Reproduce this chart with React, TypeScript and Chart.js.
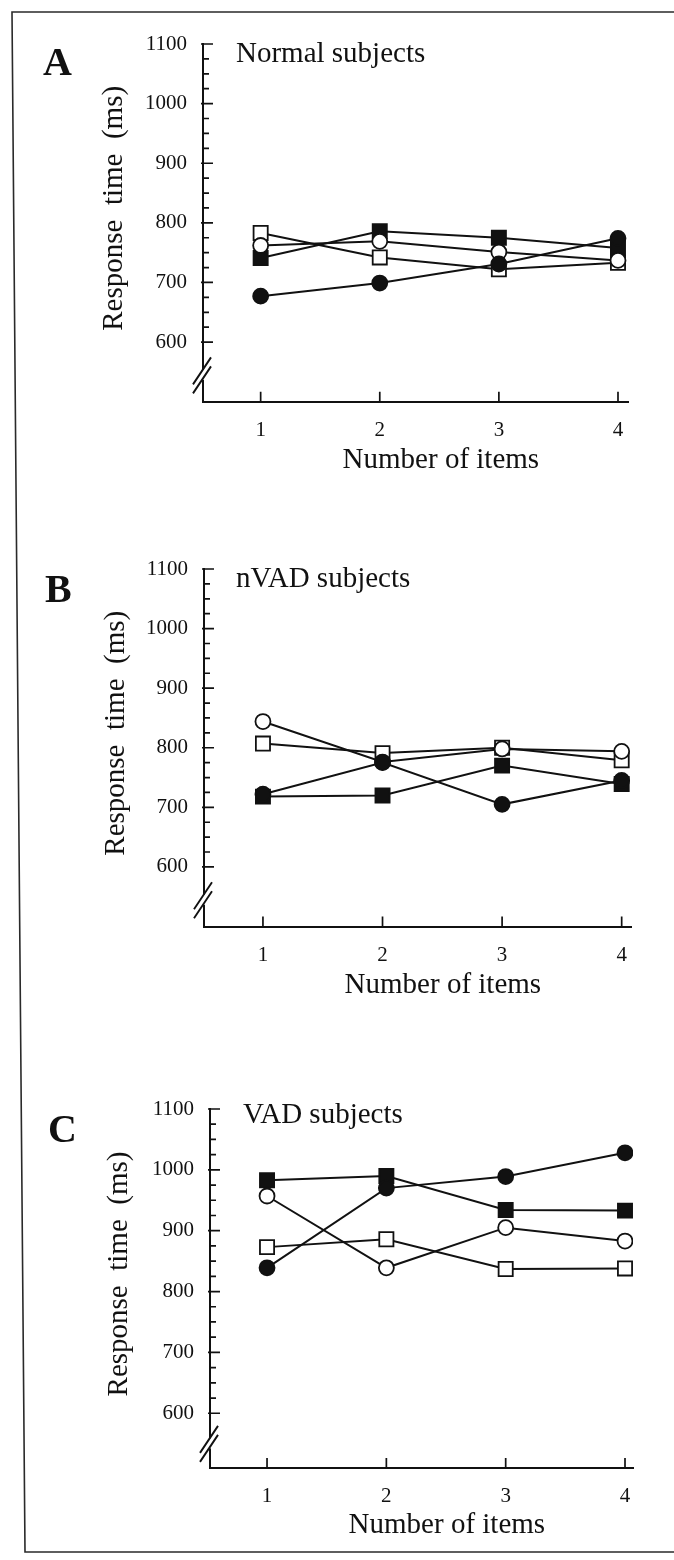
import React, { useEffect, useRef } from 'react';
import { Chart, registerables } from 'chart.js';

Chart.register(...registerables);

// ---------- data ----------
const xCategories = [1, 2, 3, 4];
const yTickValues = [600, 700, 800, 900, 1000, 1100];
const yMinorStep = 25;

const panelLetters = ['A', 'B', 'C'];
const panelTitles = ['Normal subjects', 'nVAD subjects', 'VAD subjects'];
const xAxisTitle = 'Number of items';
const yAxisTitle = 'Response  time  (ms)';

// Panel A – Normal subjects
const normalFilledCircle = [677, 699, 731, 774];
const normalFilledSquare = [741, 786, 775, 758];
const normalOpenCircle = [762, 769, 751, 737];
const normalOpenSquare = [783, 742, 722, 733];

// Panel B – nVAD subjects
const nvadFilledCircle = [722, 775, 705, 745];
const nvadFilledSquare = [718, 720, 770, 739];
const nvadOpenCircle = [844, 776, 798, 794];
const nvadOpenSquare = [807, 791, 800, 779];

// Panel C – VAD subjects
const vadFilledCircle = [839, 970, 989, 1028];
const vadFilledSquare = [983, 990, 934, 933];
const vadOpenCircle = [957, 839, 905, 883];
const vadOpenSquare = [873, 886, 837, 838];

const panelSeries = [
  { fc: normalFilledCircle, fs: normalFilledSquare, oc: normalOpenCircle, os: normalOpenSquare },
  { fc: nvadFilledCircle, fs: nvadFilledSquare, oc: nvadOpenCircle, os: nvadOpenSquare },
  { fc: vadFilledCircle, fs: vadFilledSquare, oc: vadOpenCircle, os: vadOpenSquare },
];

// ---------- layout (page pixels) ----------
const geom = [
  { top: 0, height: 500, axisX: 203, right: 628, yTop: 44, yBot: 401.7, xMin: 0.516, xMax: 4.084, yMin: 500,
    letterX: 43, letterBase: 75, titleX: 236, titleBase: 62, xTitleY: 460, yTitleX: 114 },
  { top: 510, height: 520, axisX: 204, right: 631, yTop: 569, yBot: 926.5, xMin: 0.507, xMax: 4.078, yMin: 500,
    letterX: 45, letterBase: 602, titleX: 236, titleBase: 587, xTitleY: 985, yTitleX: 116 },
  { top: 1040, height: 520, axisX: 210, right: 633, yTop: 1109, yBot: 1468, xMin: 0.522, xMax: 4.067, yMin: 510,
    letterX: 48, letterBase: 1142, titleX: 243, titleBase: 1123, xTitleY: 1525, yTitleX: 119 },
];

const FONT = "'Liberation Serif', 'Times New Roman', Times, serif";
const INK = '#111111';
const TICK_FONT = 21;
const TITLE_FONT = 29;

const axisDecor = {
  id: 'axisDecor',
  afterDraw(chart: any) {
    const ctx = chart.ctx;
    const { left, bottom } = chart.chartArea;
    const ys = chart.scales.y;
    const xs = chart.scales.x;
    const opts = chart.options.plugins.axisDecor || {};
    ctx.save();
    ctx.strokeStyle = INK;
    ctx.lineWidth = 1.7;
    ctx.beginPath();
    for (let v = yTickValues[0]; v <= yTickValues[yTickValues.length - 1]; v += yMinorStep) {
      const py = ys.getPixelForValue(v);
      const major = v % 100 === 0;
      ctx.moveTo(left - (major ? 2 : 1), py);
      ctx.lineTo(left + (major ? 10 : 6), py);
    }
    for (const v of xCategories) {
      const px = xs.getPixelForValue(v);
      ctx.moveTo(px, bottom);
      ctx.lineTo(px, bottom - 10);
    }
    ctx.stroke();
    // axis break
    const yb = ys.getPixelForValue(opts.breakValue);
    ctx.fillStyle = '#ffffff';
    ctx.fillRect(left - 3, yb - 5, 6, 10);
    ctx.lineWidth = 1.9;
    ctx.beginPath();
    for (const off of [-4.5, 4.5]) {
      ctx.moveTo(left - 10, yb + off + 14);
      ctx.lineTo(left + 8, yb + off - 13);
    }
    ctx.stroke();
    ctx.restore();
  },
};

function makeDataset(values: number[], style: string, filled: boolean, order: number) {
  return {
    data: xCategories.map((x, i) => ({ x, y: values[i] })),
    borderColor: INK,
    borderWidth: 2,
    pointStyle: style,
    pointRadius: style === 'rect' ? 10 : 7.5,
    pointBorderWidth: 1.8,
    pointBorderColor: INK,
    pointBackgroundColor: filled ? INK : '#ffffff',
    fill: false,
    tension: 0,
    order,
  };
}

function Panel({ idx }: { idx: number }) {
  const ref = useRef<HTMLCanvasElement | null>(null);
  const g = geom[idx];
  useEffect(() => {
    const s = panelSeries[idx];
    const lh = TITLE_FONT * 1.2;
    const chart = new Chart(ref.current as HTMLCanvasElement, {
      type: 'line',
      data: {
        datasets: [
          makeDataset(s.fc, 'circle', true, 0),
          makeDataset(s.oc, 'circle', false, 1),
          makeDataset(s.os, 'rect', false, 2),
          makeDataset(s.fs, 'rect', true, 3),
        ] as any,
      },
      options: {
        animation: false,
        responsive: false,
        devicePixelRatio: 1,
        layout: { padding: { left: 0, top: g.yTop - g.top, right: 674 - g.right, bottom: 0 } },
        plugins: {
          legend: { display: false },
          tooltip: { enabled: false },
          axisDecor: { breakValue: 600 - 0.55 * (600 - g.yMin) },
        } as any,
        scales: {
          x: {
            type: 'linear',
            min: g.xMin,
            max: g.xMax,
            afterBuildTicks: (sc: any) => {
              sc.ticks = xCategories.map((v) => ({ value: v }));
            },
            afterFit: (sc: any) => {
              sc.height = g.top + g.height - g.yBot;
            },
            grid: { display: false, drawTicks: false },
            border: { display: true, color: INK, width: 2 },
            ticks: {
              padding: 16,
              color: INK,
              autoSkip: false,
              maxRotation: 0,
              font: { family: FONT, size: TICK_FONT },
              callback: (v: any) => String(v),
            },
            title: {
              display: true,
              text: '       ' + xAxisTitle,
              color: INK,
              font: { family: FONT, size: TITLE_FONT },
              padding: { top: 0, bottom: g.top + g.height - lh / 2 - g.xTitleY },
            },
          },
          y: {
            type: 'linear',
            min: g.yMin,
            max: 1100,
            afterBuildTicks: (sc: any) => {
              sc.ticks = yTickValues.map((v) => ({ value: v }));
            },
            afterFit: (sc: any) => {
              sc.width = g.axisX;
            },
            grid: { display: false, drawTicks: false },
            border: { display: true, color: INK, width: 2 },
            ticks: {
              padding: 16,
              color: INK,
              autoSkip: false,
              font: { family: FONT, size: TICK_FONT },
              callback: (v: any) => String(v),
            },
            title: {
              display: true,
              text: '    ' + yAxisTitle,
              color: INK,
              font: { family: FONT, size: TITLE_FONT },
              padding: { top: g.yTitleX - lh / 2, bottom: 0 },
            },
          },
        },
      } as any,
      plugins: [axisDecor],
    });
    return () => chart.destroy();
  }, [idx]);

  return (
    <canvas
      ref={ref}
      width={674}
      height={g.height}
      style={{ position: 'absolute', left: 0, top: g.top, width: 674, height: g.height }}
    />
  );
}

function overlayText(text: string, x: number, base: number, size: number, bold: boolean, key: string) {
  return (
    <div
      key={key}
      style={{
        position: 'absolute',
        left: x,
        top: base - 0.8375 * size,
        fontFamily: FONT,
        fontSize: size,
        lineHeight: '1',
        fontWeight: bold ? 700 : 400,
        color: INK,
        whiteSpace: 'pre',
      }}
    >
      {text}
    </div>
  );
}

export default function App() {
  return (
    <div
      style={{
        position: 'absolute',
        left: 0,
        top: 0,
        width: 674,
        height: 1560,
        overflow: 'hidden',
        background: '#ffffff',
      }}
    >
      <svg width={674} height={1560} style={{ position: 'absolute', left: 0, top: 0 }}>
        <polyline
          points="674,12 12,12 25,1552 674,1552"
          fill="none"
          stroke="#2a2a2a"
          strokeWidth={1.6}
        />
      </svg>
      {geom.map((_, i) => (
        <Panel key={'p' + i} idx={i} />
      ))}
      {geom.map((g, i) => overlayText(panelLetters[i], g.letterX, g.letterBase, 40, true, 'l' + i))}
      {geom.map((g, i) => overlayText(panelTitles[i], g.titleX, g.titleBase, TITLE_FONT, false, 't' + i))}
    </div>
  );
}
